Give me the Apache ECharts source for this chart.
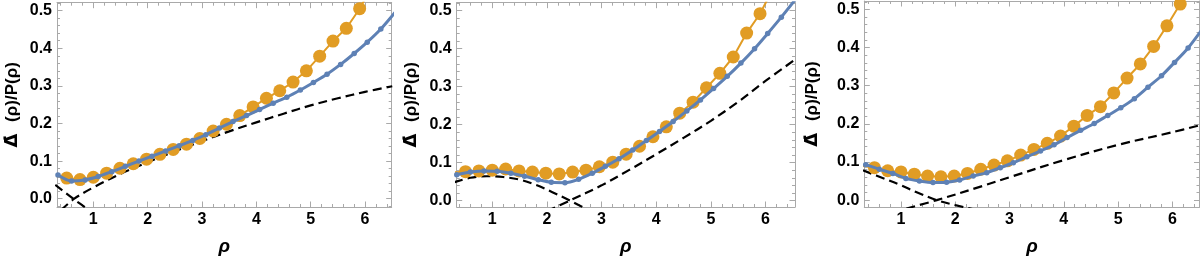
<!DOCTYPE html>
<html><head><meta charset="utf-8">
<script src="https://cdn.jsdelivr.net/npm/echarts@6/dist/echarts.min.js"></script>
<style>html,body{margin:0;padding:0;background:#fff}#c{width:1200px;height:261px}</style>
</head><body><div id="c"></div>
<script>
// ---- data ----
const xTickValues = [1, 2, 3, 4, 5, 6];
const yTickValues = [0.0, 0.1, 0.2, 0.3, 0.4, 0.5];
const xLabel = 'ρ';
const yLabel = '{d|\u0394\u0307} (ρ)/P(ρ)';

const orangeX = [0.265, 0.51, 0.755, 1.00, 1.245, 1.49, 1.735, 1.98, 2.225, 2.47, 2.715, 2.96, 3.205, 3.45, 3.695, 3.94, 4.185, 4.43, 4.675, 4.92, 5.165, 5.41, 5.655, 5.90, 6.145, 6.39];
const blueX = [0.35, 0.60, 0.85, 1.09, 1.34, 1.59, 1.84, 2.08, 2.33, 2.58, 2.83, 3.07, 3.32, 3.57, 3.82, 4.06, 4.31, 4.56, 4.81, 5.05, 5.30, 5.55, 5.80, 6.04, 6.29, 6.55];

const p1Orange = [0.062, 0.055, 0.051, 0.057, 0.068, 0.081, 0.093, 0.105, 0.118, 0.131, 0.145, 0.160, 0.180, 0.198, 0.221, 0.244, 0.267, 0.287, 0.310, 0.340, 0.379, 0.419, 0.453, 0.505, 0.57, 0.64];
const p1Blue = [0.063, 0.047, 0.050, 0.059, 0.072, 0.086, 0.100, 0.113, 0.127, 0.141, 0.155, 0.170, 0.188, 0.205, 0.221, 0.237, 0.254, 0.270, 0.289, 0.309, 0.331, 0.357, 0.386, 0.416, 0.451, 0.495];
const p1DashA = [[0.41, -0.03], [0.65, 0.0], [1.0, 0.03], [1.5, 0.066], [2.0, 0.097], [2.5, 0.126], [3.0, 0.153], [3.5, 0.179], [4.0, 0.203], [4.5, 0.226], [5.0, 0.248], [5.5, 0.267], [6.0, 0.284], [6.5, 0.299]];
const p1DashB = [[0.3, 0.037], [0.63, 0.0], [0.97, -0.035]];

const p2Orange = [0.074, 0.076, 0.078, 0.080, 0.083, 0.078, 0.075, 0.072, 0.070, 0.075, 0.080, 0.089, 0.101, 0.122, 0.143, 0.168, 0.194, 0.230, 0.259, 0.297, 0.335, 0.378, 0.441, 0.492, 0.56, 0.63];
const p2Blue = [0.068, 0.075, 0.078, 0.077, 0.072, 0.064, 0.055, 0.048, 0.047, 0.056, 0.072, 0.090, 0.110, 0.133, 0.158, 0.182, 0.208, 0.236, 0.265, 0.295, 0.327, 0.362, 0.400, 0.440, 0.483, 0.53];
const p2DashA = [[0.3, 0.048], [0.6, 0.060], [0.9, 0.064], [1.2, 0.062], [1.5, 0.055], [1.8, 0.041], [2.1, 0.022], [2.42, 0.0], [2.8, -0.028]];
const p2DashB = [[2.0, -0.028], [2.42, 0.0], [3.0, 0.04], [3.5, 0.08], [4.0, 0.122], [4.5, 0.165], [5.0, 0.21], [5.5, 0.26], [6.0, 0.315], [6.55, 0.372]];

const p3Orange = [0.09, 0.085, 0.077, 0.074, 0.068, 0.063, 0.061, 0.063, 0.070, 0.081, 0.092, 0.103, 0.118, 0.133, 0.149, 0.168, 0.194, 0.222, 0.245, 0.281, 0.320, 0.357, 0.403, 0.457, 0.514, 0.58];
const p3Blue = [0.093, 0.081, 0.070, 0.057, 0.050, 0.046, 0.047, 0.053, 0.063, 0.072, 0.085, 0.098, 0.114, 0.129, 0.145, 0.164, 0.183, 0.201, 0.222, 0.242, 0.266, 0.296, 0.326, 0.361, 0.399, 0.448];
const p3DashA = [[0.3, 0.078], [0.7, 0.056], [1.0, 0.039], [1.3, 0.02], [1.66, 0.0], [2.0, -0.013], [2.4, -0.026]];
const p3DashB = [[1.1, -0.022], [1.66, 0.0], [2.5, 0.037], [3.0, 0.06], [4.0, 0.105], [5.0, 0.145], [6.0, 0.178], [6.5, 0.196]];

// ---- layout / style ----
const FONT = "'Liberation Sans', Arial, sans-serif";
const BLUE = '#5E81B5', ORANGE = '#E19C24', FRAME = '#a9a9a9';
const panels = [
  {grid: {left: 57, top: 2.7, width: 334.7, height: 206.6}, x: [0.332, 6.49], y: [-0.022, 0.521], nameGap: 36,
   orange: p1Orange, blue: p1Blue, dashA: p1DashA, dashB: p1DashB},
  {grid: {left: 456.7, top: 2.7, width: 338.3, height: 208.3}, x: [0.349, 6.54], y: [-0.017, 0.521], nameGap: 36,
   orange: p2Orange, blue: p2Blue, dashA: p2DashA, dashB: p2DashB},
  {grid: {left: 864.3, top: 1, width: 335.2, height: 207}, x: [0.324, 6.50], y: [-0.018, 0.522], nameGap: 43,
   orange: p3Orange, blue: p3Blue, dashA: p3DashA, dashB: p3DashB}
];

function minorList(lo, hi, step, majors) {
  const out = [];
  for (let k = Math.ceil(lo / step + 1e-6); k * step < hi - 1e-6; k++) {
    const v = +(k * step).toFixed(4);
    if (!majors.some(m => Math.abs(m - v) < 1e-6)) out.push(v);
  }
  return out;
}

const grids = [], xAxes = [], yAxes = [], series = [];
panels.forEach((p, i) => {
  grids.push(Object.assign({containLabel: false}, p.grid));
  const xMinor = minorList(p.x[0], p.x[1], 0.2, xTickValues);
  const yMinor = minorList(p.y[0], p.y[1], 0.02, yTickValues);
  const base = (kind, pos, ticks, len, showLine, showLabel, extra) => Object.assign({
    type: 'value', gridIndex: i, position: pos,
    min: kind === 'x' ? p.x[0] : p.y[0], max: kind === 'x' ? p.x[1] : p.y[1],
    splitLine: {show: false},
    axisLine: {show: showLine, onZero: false, lineStyle: {color: FRAME, width: 1}},
    axisTick: {show: true, inside: true, length: len, customValues: ticks, lineStyle: {color: FRAME, width: 1}},
    axisLabel: {show: showLabel, customValues: ticks, color: '#000', fontFamily: FONT, fontWeight: 'bold', fontSize: 16,
      margin: 5,
      formatter: v => kind === 'x' ? String(Math.round(v)) : (Math.round(v * 10) / 10).toFixed(1)}
  }, extra || {});
  xAxes.push(base('x', 'bottom', xTickValues, 5.5, true, true, {
    name: xLabel, nameLocation: 'middle', nameGap: 30,
    nameTextStyle: {fontFamily: FONT, fontWeight: 'bold', fontStyle: 'italic', fontSize: 19, color: '#000'}}));
  xAxes.push(base('x', 'bottom', xMinor, 3, false, false));
  xAxes.push(base('x', 'top', xTickValues, 5.5, true, false));
  xAxes.push(base('x', 'top', xMinor, 3, false, false));
  yAxes.push(base('y', 'left', yTickValues, 5.5, true, true, {
    name: yLabel, nameLocation: 'middle', nameGap: p.nameGap, nameRotate: 90,
    nameTextStyle: {fontFamily: FONT, fontWeight: 'bold', fontSize: 17, color: '#000',
      rich: {d: {fontFamily: "'DejaVu Sans'", fontWeight: 'bold', fontSize: 18, color: '#000', padding: [0, 7, 0, 0]}}}}));
  yAxes.push(base('y', 'left', yMinor, 3, false, false));
  yAxes.push(base('y', 'right', yTickValues, 5.5, true, false));
  yAxes.push(base('y', 'right', yMinor, 3, false, false));

  const xi = 4 * i, yi = 4 * i;
  [p.dashA, p.dashB].forEach(d => series.push({
    type: 'line', xAxisIndex: xi, yAxisIndex: yi, data: d, symbol: 'none', smooth: 0.35, clip: true, z: 2,
    lineStyle: {color: '#000', width: 2.2, type: [9, 5]}, silent: true
  }));
  series.push({
    type: 'line', xAxisIndex: xi, yAxisIndex: yi, clip: true, z: 3,
    data: orangeX.map((x, k) => [x, p.orange[k]]),
    symbol: 'circle', symbolSize: 13, showAllSymbol: true,
    lineStyle: {color: ORANGE, width: 2}, itemStyle: {color: ORANGE}
  });
  series.push({
    type: 'line', xAxisIndex: xi, yAxisIndex: yi, clip: true, z: 4, smooth: 0.3,
    data: blueX.map((x, k) => (k === blueX.length - 1) ? {value: [x, p.blue[k]], symbolSize: 0} : [x, p.blue[k]]),
    symbol: 'circle', symbolSize: 5.5, showAllSymbol: true,
    lineStyle: {color: BLUE, width: 3}, itemStyle: {color: BLUE}
  });
});

const chart = echarts.init(document.getElementById('c'), null, {renderer: 'canvas'});
chart.setOption({
  animation: false, backgroundColor: '#fff',
  grid: grids, xAxis: xAxes, yAxis: yAxes, series: series
});
</script></body></html>
